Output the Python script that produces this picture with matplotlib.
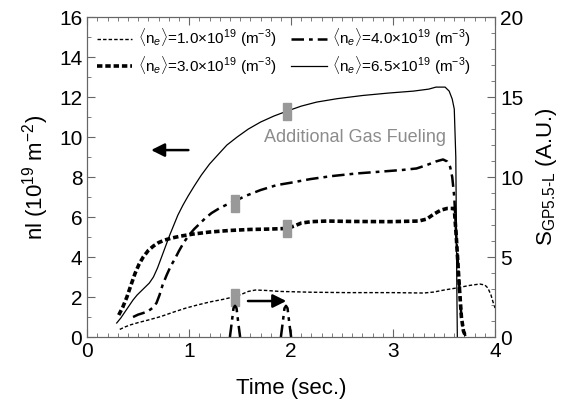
import numpy as np
import matplotlib
matplotlib.use('Agg')
import matplotlib.pyplot as plt
from matplotlib.ticker import MultipleLocator
from matplotlib.patches import Rectangle

plt.rcParams['font.family'] = ['Liberation Sans', 'DejaVu Sans']
plt.rcParams['mathtext.fontset'] = 'custom'
plt.rcParams['mathtext.rm'] = 'Liberation Sans'
plt.rcParams['mathtext.it'] = 'Liberation Sans:italic'

## data -------------------------
t_65 = [0.29, 0.33, 0.37, 0.41, 0.45, 0.49, 0.53, 0.57, 0.61, 0.65, 0.69, 0.73, 0.77, 0.81,
        0.85, 0.89, 0.94, 0.99, 1.05, 1.12, 1.20, 1.28, 1.37, 1.47, 1.58, 1.70, 1.83, 1.96,
        2.10, 2.25, 2.45, 2.70, 2.95, 3.20, 3.35, 3.42, 3.51, 3.55, 3.58, 3.60, 3.615, 3.62,
        3.625, 3.63]
nl_65 = [0.7, 0.95, 1.25, 1.55, 1.85, 2.1, 2.3, 2.5, 2.7, 3.0, 3.45, 4.0, 4.55, 5.1,
         5.6, 6.1, 6.6, 7.05, 7.55, 8.1, 8.65, 9.1, 9.6, 10.0, 10.4, 10.75, 11.05, 11.3,
         11.55, 11.75, 11.92, 12.08, 12.2, 12.3, 12.4, 12.5, 12.5, 12.3, 11.9, 11.4, 9.0, 6.0,
         2.5, 0.0]

t_40 = [0.45, 0.50, 0.55, 0.60, 0.64, 0.68, 0.71, 0.74, 0.78, 0.82, 0.86, 0.90, 0.95, 1.00,
        1.05, 1.10, 1.16, 1.22, 1.30, 1.38, 1.45, 1.55, 1.70, 1.86, 2.00, 2.19, 2.40, 2.64,
        2.90, 3.10, 3.23, 3.33, 3.42, 3.49, 3.53, 3.56, 3.58, 3.60, 3.62, 3.65, 3.67, 3.69, 3.71]
nl_40 = [1.0, 1.12, 1.2, 1.3, 1.45, 1.7, 2.1, 2.6, 3.1, 3.55, 3.9, 4.3, 4.75, 5.1,
         5.4, 5.65, 5.95, 6.2, 6.45, 6.65, 6.8, 7.05, 7.35, 7.6, 7.72, 7.9, 8.05, 8.18,
         8.28, 8.36, 8.43, 8.6, 8.78, 8.88, 8.78, 8.5, 8.0, 7.0, 5.0, 2.5, 1.0, 0.3, 0.05]

t_30 = [0.31, 0.35, 0.39, 0.43, 0.47, 0.51, 0.55, 0.60, 0.65, 0.70, 0.76, 0.83, 0.92, 1.04,
        1.20, 1.40, 1.60, 1.80, 1.96, 2.03, 2.10, 2.20, 2.35, 2.60, 2.97, 3.25, 3.33, 3.40,
        3.47, 3.53, 3.60, 3.62, 3.65, 3.67, 3.69, 3.71]
nl_30 = [1.1, 1.5, 2.0, 2.6, 3.18, 3.65, 4.0, 4.33, 4.55, 4.72, 4.85, 4.95, 5.05, 5.15,
         5.25, 5.33, 5.38, 5.4, 5.43, 5.55, 5.7, 5.77, 5.8, 5.78, 5.77, 5.8, 5.9, 6.15,
         6.35, 6.43, 6.43, 5.0, 2.5, 1.0, 0.3, 0.05]

t_10 = [0.32, 0.37, 0.42, 0.50, 0.60, 0.72, 0.85, 0.97, 1.08, 1.20, 1.33, 1.45, 1.52, 1.58,
        1.65, 1.75, 1.89, 2.20, 2.55, 3.00, 3.30, 3.40, 3.50, 3.62, 3.75, 3.85, 3.90, 3.93,
        3.96, 3.98, 4.00]
nl_10 = [0.38, 0.5, 0.6, 0.72, 0.85, 1.02, 1.25, 1.45, 1.6, 1.75, 1.88, 2.02, 2.15, 2.28,
         2.35, 2.33, 2.28, 2.24, 2.22, 2.22, 2.2, 2.25, 2.35, 2.45, 2.58, 2.65, 2.6, 2.45,
         2.1, 1.75, 1.45]

# gas puff signal (right axis)
t_gp = [1.40, 1.42, 1.435, 1.45, 1.465, 1.48, 1.50, np.nan,
        1.90, 1.92, 1.935, 1.95, 1.965, 1.98, 2.00]
s_gp = [0.0, 1.0, 1.8, 1.95, 1.8, 1.0, 0.0, np.nan,
        0.0, 1.0, 1.8, 1.95, 1.8, 1.0, 0.0]

# fueling time markers
mark_t = [1.45, 1.45, 1.96, 1.96]
mark_nl = [2.0, 6.7, 5.45, 11.3]

labels = [r'$\langle$n$_e\rangle$=1.0$\times$10$^{19}$ (m$^{-3}$)',
          r'$\langle$n$_e\rangle$=3.0$\times$10$^{19}$ (m$^{-3}$)',
          r'$\langle$n$_e\rangle$=4.0$\times$10$^{19}$ (m$^{-3}$)',
          r'$\langle$n$_e\rangle$=6.5$\times$10$^{19}$ (m$^{-3}$)']

## plot -----
fig = plt.figure(figsize=(5.77, 4.08), dpi=100)
ax = fig.add_axes([0.151, 0.174, 0.707, 0.784])
ax2 = ax.twinx()

l10, = ax.plot(t_10, nl_10, color='k', lw=1.0, ls=(0, (2.5, 1.5)))
l40, = ax.plot(t_40, nl_40, color='k', lw=1.8, ls=(0, (5, 2, 1.5, 2)))
l30, = ax.plot(t_30, nl_30, color='k', lw=2.6, ls=(0, (1.5, 0.8)))
l65, = ax.plot(t_65, nl_65, color='k', lw=0.9, ls='-')

ax2.plot(t_gp, s_gp, color='k', lw=1.8, ls=(0, (5, 2, 1.5, 2)))

# gray rectangles: 8 px wide, 17 px tall
w, h = 0.08, 0.85
for xm, ym in zip(mark_t, mark_nl):
    ax.add_patch(Rectangle((xm - w / 2, ym - h / 2), w, h, color='#999999', zorder=3))

ax.text(2.63, 10.0, 'Additional Gas Fueling', color='#8c8c8c', fontsize=13,
        ha='center', va='center')
ax.annotate('', xy=(0.60, 9.35), xytext=(1.02, 9.35),
            arrowprops=dict(arrowstyle='-|>', color='k', lw=1.8, mutation_scale=20))
ax.annotate('', xy=(1.98, 1.8), xytext=(1.55, 1.8),
            arrowprops=dict(arrowstyle='-|>', color='k', lw=1.8, mutation_scale=20))

ax.legend([l10, l30, l40, l65], labels, ncol=2, loc='upper left', frameon=False,
          fontsize=11, handlelength=2.3, columnspacing=1.0, borderaxespad=0.25,
          labelspacing=0.35, handletextpad=0.35, borderpad=0.4)

ax.set_xlim(0, 4)
ax.set_ylim(0, 16)
ax2.set_ylim(0, 20)
ax.xaxis.set_major_locator(MultipleLocator(1))
ax.xaxis.set_minor_locator(MultipleLocator(0.1))
ax.yaxis.set_major_locator(MultipleLocator(2))
ax.yaxis.set_minor_locator(MultipleLocator(1))
ax2.yaxis.set_major_locator(MultipleLocator(5))
ax2.yaxis.set_minor_locator(MultipleLocator(1))

ax.tick_params(which='both', direction='in', top=True, labelsize=15, color='#666666')
ax.tick_params(which='major', length=6)
ax.tick_params(which='minor', length=3)
ax2.tick_params(which='both', direction='in', labelsize=15, color='#666666')
ax2.tick_params(which='major', length=6)
ax2.tick_params(which='minor', length=3)
for a in (ax, ax2):
    for s in a.spines.values():
        s.set_color('#666666')

ax.set_xlabel('Time (sec.)', fontsize=16, labelpad=12)
ax.set_ylabel(r'nl (10$^{19}$ m$^{-2}$)', fontsize=16, labelpad=6)
ax2.set_ylabel(r'S$_{\mathrm{GP5.5\text{-}L}}$ (A.U.)', fontsize=16, labelpad=8)

fig.savefig('out.png', dpi=100)
